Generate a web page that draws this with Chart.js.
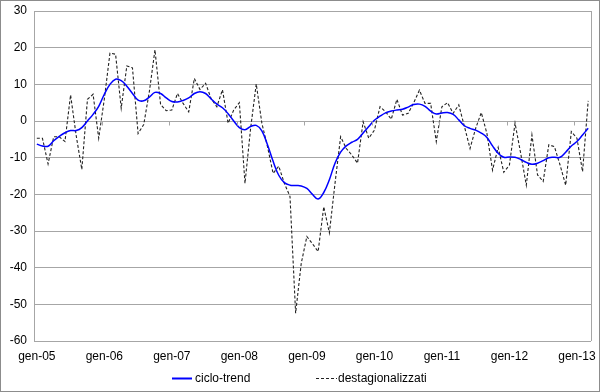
<!DOCTYPE html>
<html>
<head>
<meta charset="utf-8">
<script src="https://cdn.jsdelivr.net/npm/chart.js@4.4.1/dist/chart.umd.min.js"></script>
<style>
html,body{margin:0;padding:0;background:#fff;}
#wrap{width:600px;height:392px;position:relative;}
</style>
</head>
<body>
<div id="wrap"><canvas id="c" width="600" height="392"></canvas></div>
<script>
// Month names (Italian) and years used to build the category labels
const monthNames = ['gen','feb','mar','apr','mag','giu','lug','ago','set','ott','nov','dic'];
const years = ['05','06','07','08','09','10','11','12','13'];
const nPoints = 99; // gen-05 .. mar-13

// ciclo-trend (blue)
const cicloTrend = [
  -6.3,-6.8,-6.9,-5.4,-4.2,-3.2,-2.6,-2.6,-1.8,0.0,1.8,4.0,
  7.3,10.0,11.4,11.0,9.5,7.5,5.7,5.5,6.5,7.8,7.5,6.3,
  5.3,5.2,5.6,6.3,7.5,8.0,7.5,6.0,4.6,3.6,2.0,0.0,
  -1.8,-2.4,-1.5,-1.2,-2.7,-6.5,-11.0,-14.8,-16.8,-17.5,-17.6,-17.7,
  -18.4,-20.0,-21.3,-19.5,-16.0,-11.5,-8.5,-6.8,-5.8,-5.0,-3.3,-1.5,
  0.2,1.3,2.2,2.7,3.0,3.2,3.8,4.5,4.6,4.0,2.7,1.9,
  2.2,2.3,1.8,0.3,-1.3,-2.0,-2.5,-3.3,-4.5,-6.8,-8.8,-9.9,
  -9.8,-9.9,-10.5,-11.3,-11.8,-11.5,-10.8,-10.0,-9.9,-9.9,-8.5,-6.8,
  -5.6,-3.8,-2.0
];

// destagionalizzati (dashed)
const destagionalizzati = [
  -4.7,-4.7,-11.7,-4.3,-4.3,-5.6,7.1,-4.0,-13.2,5.9,7.3,-4.7,
  6.0,18.5,18.2,3.5,15.0,14.5,-3.4,-1.0,8.0,19.4,4.5,2.8,
  3.0,7.5,4.8,2.5,11.6,8.6,10.3,6.0,3.9,8.5,-0.6,3.0,
  5.0,-17.0,-2.0,10.1,-0.6,-7.0,-14.3,-12.3,-17.0,-20.6,-52.4,-38.8,
  -31.5,-33.5,-35.6,-23.4,-30.5,-17.0,-4.3,-7.5,-9.3,-11.5,-0.2,-4.7,
  -2.5,3.9,2.5,0.5,5.9,1.6,2.1,5.0,8.4,4.8,4.8,-5.6,
  3.9,5.0,2.1,4.4,-1.5,-7.5,-2.0,2.3,-3.4,-13.4,-7.2,-14.0,
  -12.0,-0.6,-8.8,-17.5,-3.8,-14.7,-16.5,-6.5,-7.0,-12.0,-17.5,-2.9,
  -4.7,-13.8,5.5
];

const yTicks = [-60,-50,-40,-30,-20,-10,0,10,20,30];

const categories = [];
for (let y = 0; y < years.length; y++) {
  for (let m = 0; m < 12; m++) {
    if (categories.length < nPoints) categories.push(monthNames[m] + '-' + years[y]);
  }
}

const FONT = '"Liberation Sans", Arial, sans-serif';
const GRID = '#a6a6a6';

const framePlugin = {
  id: 'frame',
  beforeDraw(chart) {
    const ctx = chart.ctx;
    ctx.save();
    ctx.fillStyle = '#fff';
    ctx.fillRect(0, 0, chart.width, chart.height);
    ctx.restore();
  },
  afterDraw(chart) {
    const ctx = chart.ctx;
    const a = chart.chartArea;
    const xs = chart.scales.x, ys = chart.scales.y;
    ctx.save();
    // right border of plot area
    ctx.strokeStyle = GRID;
    ctx.lineWidth = 1;
    ctx.beginPath();
    ctx.moveTo(Math.round(a.right) + 0.5, a.top);
    ctx.lineTo(Math.round(a.right) + 0.5, a.bottom);
    ctx.stroke();
    // small tick marks on the zero line at each year boundary
    const w = (a.right - a.left) / nPoints;
    const y0 = Math.round(ys.getPixelForValue(0)) + 0.5;
    ctx.beginPath();
    for (let i = 0; i < nPoints; i += 12) {
      const x = Math.round(xs.getPixelForValue(i) - w / 2) + 0.5;
      ctx.moveTo(x, y0);
      ctx.lineTo(x, y0 + 4);
    }
    ctx.stroke();
    // outer chart border
    ctx.strokeStyle = '#8c8c8c';
    ctx.strokeRect(0.5, 0.5, chart.width - 1, chart.height - 1);
    // legend
    const ly = 378.5;
    ctx.font = '12px ' + FONT;
    ctx.fillStyle = '#000';
    ctx.textBaseline = 'middle';
    ctx.textAlign = 'left';
    ctx.strokeStyle = '#0000ff';
    ctx.lineWidth = 2;
    ctx.beginPath();
    ctx.moveTo(172, ly); ctx.lineTo(192, ly);
    ctx.stroke();
    ctx.fillText(chart.data.datasets[0].label, 195, ly);
    ctx.strokeStyle = '#222';
    ctx.lineWidth = 1;
    ctx.setLineDash([3, 2]);
    ctx.beginPath();
    ctx.moveTo(316, ly); ctx.lineTo(337, ly);
    ctx.stroke();
    ctx.setLineDash([]);
    ctx.fillText(chart.data.datasets[1].label, 338, ly);
    ctx.restore();
  }
};

new Chart(document.getElementById('c'), {
  type: 'line',
  data: {
    labels: categories,
    datasets: [
      {
        label: 'ciclo-trend',
        data: cicloTrend,
        borderColor: '#0000ff',
        borderWidth: 1.5,
        pointRadius: 0,
        tension: 0.4,
        fill: false
      },
      {
        label: 'destagionalizzati',
        data: destagionalizzati,
        borderColor: '#222222',
        borderWidth: 1.1,
        borderDash: [3, 2],
        pointRadius: 0,
        tension: 0,
        fill: false
      }
    ]
  },
  options: {
    responsive: false,
    animation: false,
    devicePixelRatio: 1,
    layout: { padding: { top: 11, right: 9, bottom: 29, left: 0 } },
    plugins: {
      legend: { display: false },
      tooltip: { enabled: false }
    },
    scales: {
      x: {
        type: 'category',
        offset: true,
        grid: { display: false, drawTicks: false },
        border: { display: false },
        ticks: {
          autoSkip: false,
          maxRotation: 0,
          minRotation: 0,
          padding: 8,
          color: '#000',
          font: { family: FONT, size: 12 },
          callback: function(v, i) { return i % 12 === 0 ? categories[i] : null; }
        },
        afterFit: function(s) { s.height = 22; s.paddingLeft = 0; s.paddingRight = 0; }
      },
      y: {
        min: -60,
        max: 30,
        afterBuildTicks: function(s) { s.ticks = yTicks.map(v => ({ value: v })); },
        grid: { color: GRID, drawTicks: false, lineWidth: 1 },
        border: { display: true, color: GRID },
        ticks: {
          padding: 7,
          color: '#000',
          font: { family: FONT, size: 12 }
        },
        afterFit: function(s) { s.width = 34; s.paddingTop = 0; s.paddingBottom = 0; }
      }
    }
  },
  plugins: [framePlugin]
});
</script>
</body>
</html>
